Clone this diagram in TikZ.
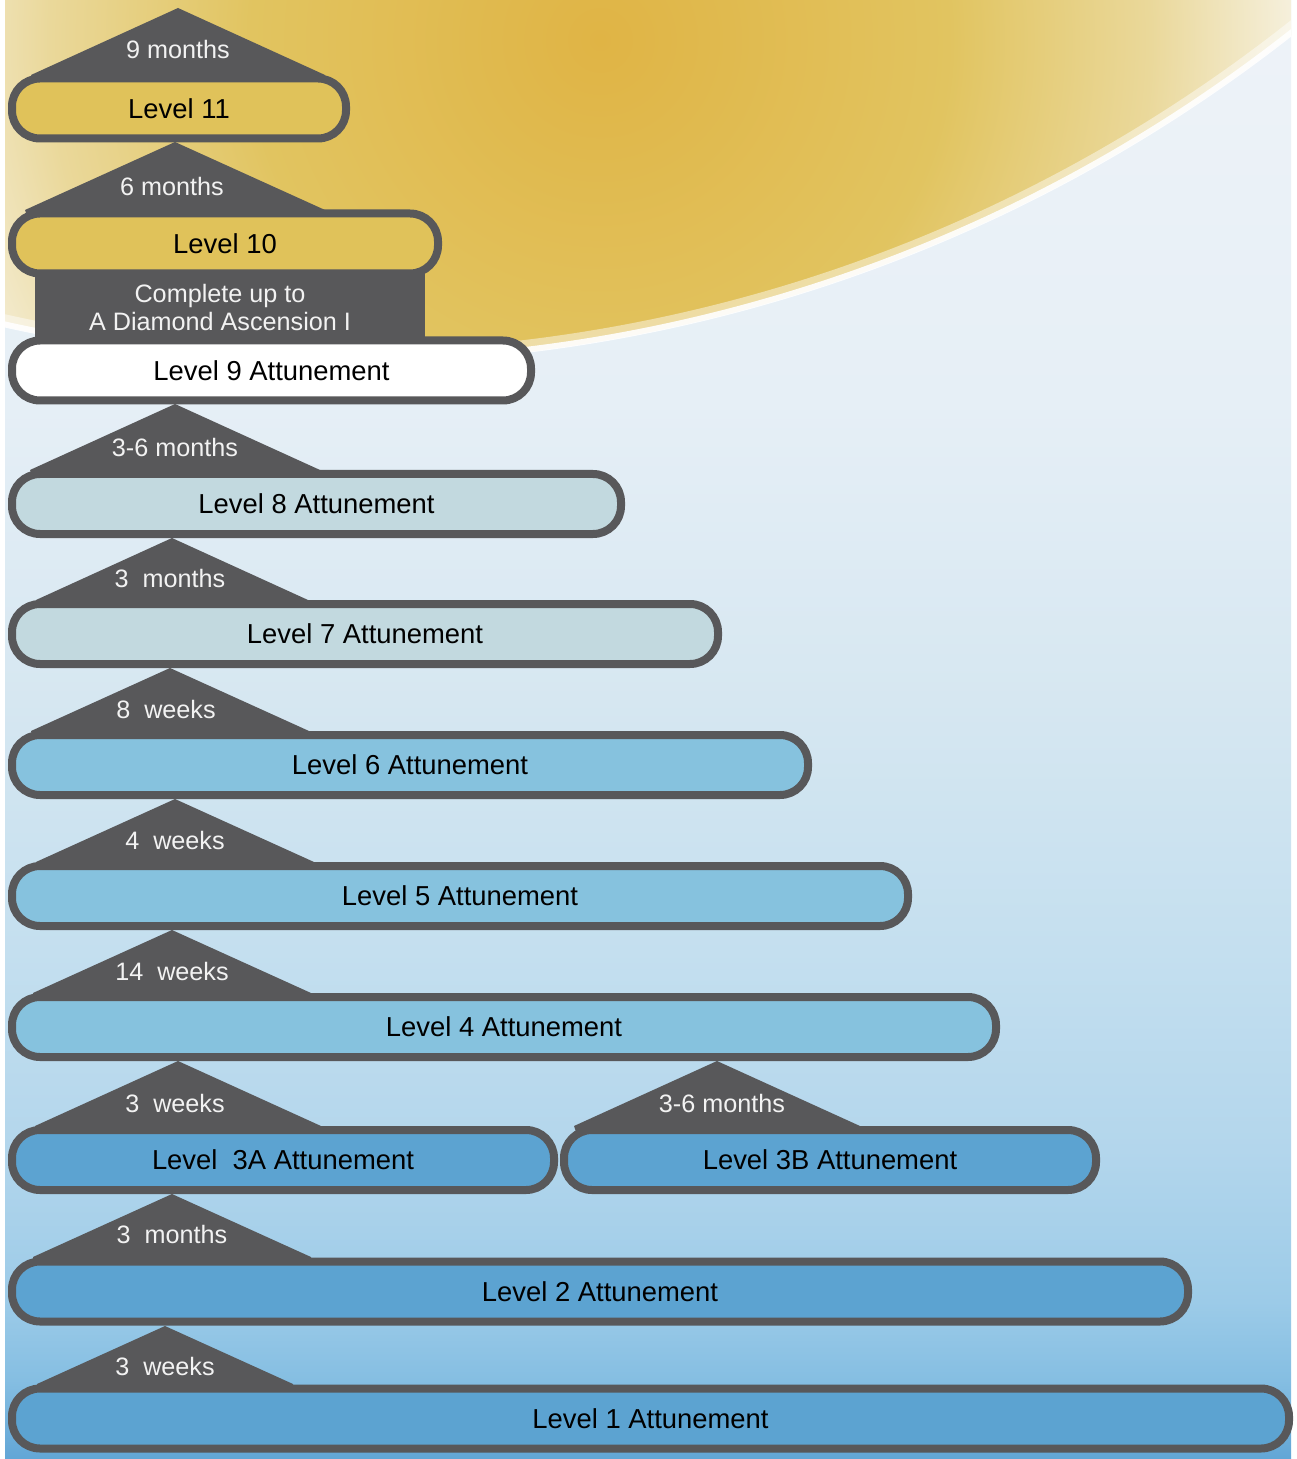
\documentclass[tikz,border=0pt]{standalone}
\usepackage{fontspec}
\setmainfont{Liberation Sans}
\usetikzlibrary{calc}
\definecolor{bord}{HTML}{58585A}
\definecolor{gold}{HTML}{E0C25A}
\definecolor{pale}{HTML}{C2D9DF}
\definecolor{midblue}{HTML}{86C2DE}
\definecolor{deepblue}{HTML}{5CA3D1}
\definecolor{labtext}{HTML}{F2F2F2}
\definecolor{bgA}{HTML}{EEF3F8}
\definecolor{bgB}{HTML}{E6EFF6}
\definecolor{bgC}{HTML}{D6E7F1}
\definecolor{bgD}{HTML}{C4DFEF}
\definecolor{bgE}{HTML}{B3D6EC}
\definecolor{bgF}{HTML}{9CCBE8}
\definecolor{bgG}{HTML}{85BEE2}
\definecolor{bgH}{HTML}{62A6D6}
\definecolor{sunA}{HTML}{E0B445}
\definecolor{sunB}{HTML}{E1C460}
\definecolor{sunC}{HTML}{EAD89A}
\definecolor{sunD}{HTML}{F6F1E0}
\pgfdeclareverticalshading{bgshade}{100bp}{color(0bp)=(bgH); color(25bp)=(bgH); color(27.7bp)=(bgG); color(30.4bp)=(bgF); color(35.6bp)=(bgE); color(42.4bp)=(bgD); color(51bp)=(bgC); color(61.3bp)=(bgB); color(75bp)=(bgA); color(100bp)=(bgA)}
\pgfdeclareradialshading{sunshade}{\pgfpoint{0bp}{0bp}}{color(0bp)=(sunA); color(10.9bp)=(sunB); color(17.2bp)=(sunC); color(21.9bp)=(sunD); color(50bp)=(sunD)}
\tikzset{
  pill/.style={draw=bord, line width=4pt, rounded corners=14pt, minimum height=30pt, inner sep=0pt, text=black, font=\fontsize{13.7}{16}\selectfont},
  tri/.style={fill=bord},
  lab/.style={text=labtext, inner sep=0pt, font=\fontsize{12.6}{14}\selectfont, align=center}
}
\newcommand\mytri[3]{\fill[tri] (#1) -- ++({-#2},{#3}) -- ++(5,15) -- ++({2*#2-5},0) -- ++(0,-15) -- cycle;}
\begin{document}
\begin{tikzpicture}[x=0.5pt,y=-0.5pt]
\useasboundingbox (0,0) rectangle (1296,1459);
\fill[white] (0,0) rectangle (1296,1459);
\shade[shading=bgshade] (5,0) rectangle (1291,1459);
% sun
\begin{scope}
  \clip (5,0) rectangle (1291,1459);
  \begin{scope}
    \clip (340,-1181) circle (772pt);
    \shade[shading=sunshade] (600,40) circle (400pt);
  \end{scope}
  \draw[white, opacity=0.45, line width=6pt] (340,-1181) circle (769pt);
  \draw[white, opacity=0.9, line width=3pt] (340,-1181) circle (771pt);
\end{scope}
% apex coordinates
\coordinate (a11) at (178,8);
\coordinate (a10) at (175,142);
\coordinate (a8) at (175,404);
\coordinate (a7) at (172,538);
\coordinate (a6) at (170,668);
\coordinate (a5) at (175,799);
\coordinate (a4) at (172,930);
\coordinate (a3a) at (178,1061);
\coordinate (a3b) at (717,1061);
\coordinate (a2) at (172,1194);
\coordinate (a1) at (165,1326);
% connectors (triangles)
\mytri{a11}{147}{67}
\mytri{a10}{150}{68}
\fill[tri] (35,268) rectangle (425,345);
\mytri{a8}{145}{66}
\mytri{a7}{136}{62}
\mytri{a6}{139}{63}
\mytri{a5}{139}{63}
\mytri{a4}{139}{63}
\mytri{a3a}{143}{65}
\mytri{a3b}{143}{65}
\mytri{a2}{139}{63}
\mytri{a1}{128}{58}
% pills
\node[pill, fill=gold, minimum width=167pt] (l11) at (179,108.5) {Level 11};
\node[pill, fill=gold, minimum width=213pt] (l10) at (225,243.5) {Level 10};
\node[pill, fill=white, minimum width=259.5pt] (l9) at (271.5,370.5) {Level 9 Attunement};
\node[pill, fill=pale, minimum width=304.5pt] (l8) at (316.5,504) {Level 8 Attunement};
\node[pill, fill=pale, minimum width=353pt] (l7) at (365,634) {Level 7 Attunement};
\node[pill, fill=midblue, minimum width=398pt] (l6) at (410,765) {Level 6 Attunement};
\node[pill, fill=midblue, minimum width=448pt] (l5) at (460,896) {Level 5 Attunement};
\node[pill, fill=midblue, minimum width=492pt] (l4) at (504,1027) {Level 4 Attunement};
\node[pill, fill=deepblue, minimum width=271pt] (l3a) at (283,1160) {Level\ \ 3A Attunement};
\node[pill, fill=deepblue, minimum width=266pt] (l3b) at (830,1160) {Level 3B Attunement};
\node[pill, fill=deepblue, minimum width=588pt] (l2) at (600,1291.5) {Level 2 Attunement};
\node[pill, fill=deepblue, minimum width=638.5pt] (l1) at (650.5,1418.5) {Level 1 Attunement};
% labels
\node[lab] (t11) at (178,50) {9 months};
\node[lab] (t10) at (172,186) {6 months};
\node[lab] (t9) at (220,307) {Complete up to\\A Diamond Ascension I};
\node[lab] (t8) at (175,447) {3-6 months};
\node[lab] (t7) at (170,578) {3\ \ months};
\node[lab] (t6) at (166,709) {8\ \ weeks};
\node[lab] (t5) at (175,840) {4\ \ weeks};
\node[lab] (t4) at (172,971) {14\ \ weeks};
\node[lab] (t3a) at (175,1103) {3\ \ weeks};
\node[lab] (t3b) at (722,1103) {3-6 months};
\node[lab] (t2) at (172,1234) {3\ \ months};
\node[lab] (t1) at (165,1366) {3\ \ weeks};
\end{tikzpicture}
\end{document}
